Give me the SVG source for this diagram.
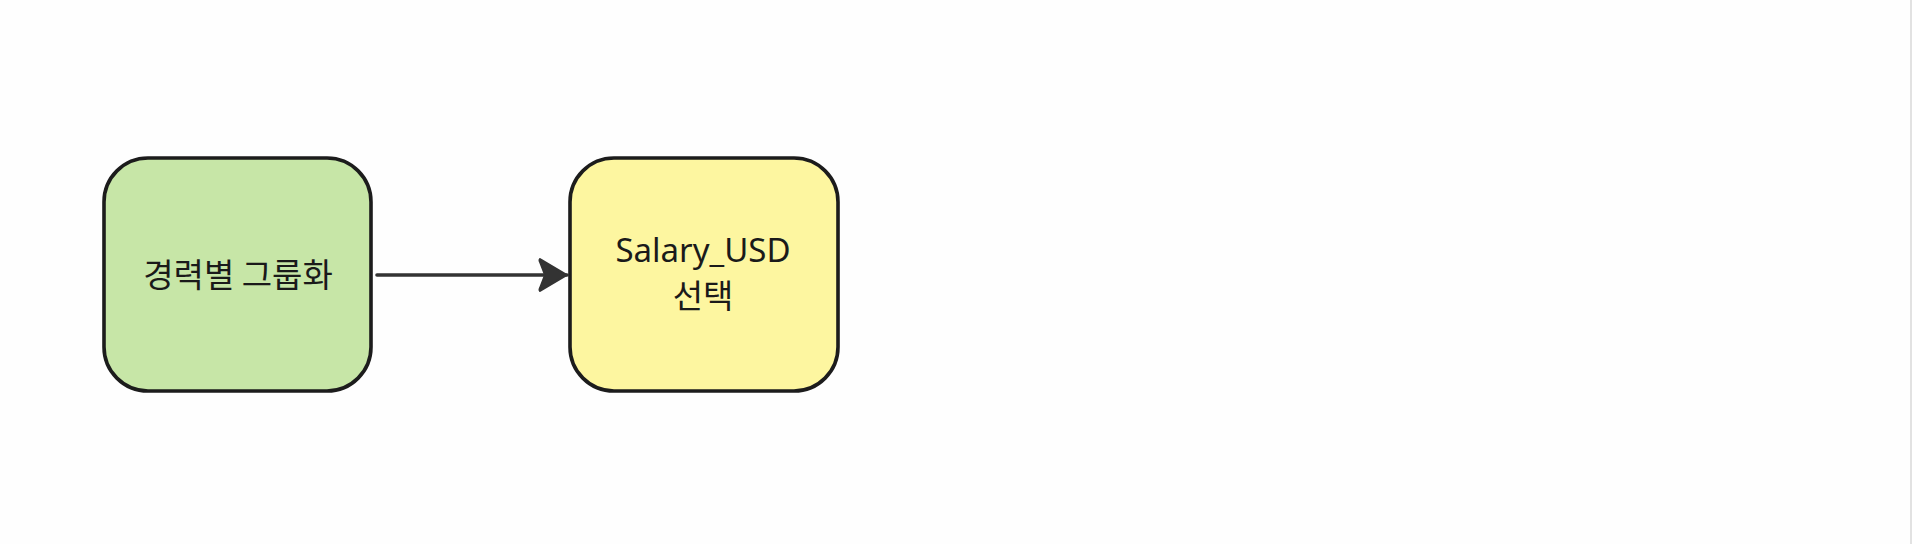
<svg xmlns="http://www.w3.org/2000/svg" width="1912" height="544" viewBox="0 0 1912 544">
<style>
.node{stroke:#1c1c1c;stroke-width:3.6}
.lbl{font-family:"Noto Sans","Noto Sans CJK KR",sans-serif;fill:#1a1a1a;text-anchor:middle}
.ko{font-family:"Noto Sans CJK KR","Noto Sans",sans-serif;font-size:33px}
.en{font-size:33px}
.edge{stroke:#333;stroke-width:3.6;fill:none;stroke-linecap:round}
</style>
<defs>
<marker id="arr" viewBox="0 0 30 36" refX="29" refY="18" markerWidth="30" markerHeight="36" markerUnits="userSpaceOnUse" orient="auto">
<path d="M2,2 L29,18 L2,34 Q1,33 2,31 L7,18 L2,5 Q1,3 2,2 Z" fill="#333" stroke="#333" stroke-width="2" stroke-linejoin="round"/>
</marker>
</defs>
<rect width="1912" height="544" fill="#fefefe"/>
<line x1="1911" y1="0" x2="1911" y2="544" stroke="#d8d8d8" stroke-width="1.5"/>
<g id="connectors">
<line class="edge" x1="377" y1="275" x2="567" y2="275" marker-end="url(#arr)"/>
</g>
<g id="node-group">
<rect class="node" x="104" y="158" width="267" height="233" rx="44" fill="#c7e6a7"/>
<text class="lbl ko" x="238" y="287">경력별 그룹화</text>
</g>
<g id="node-select">
<rect class="node" x="570" y="158" width="268" height="233" rx="44" fill="#fdf6a0"/>
<text class="lbl en" x="703" y="262">Salary_USD</text>
<text class="lbl ko" x="703" y="308">선택</text>
</g>
</svg>
